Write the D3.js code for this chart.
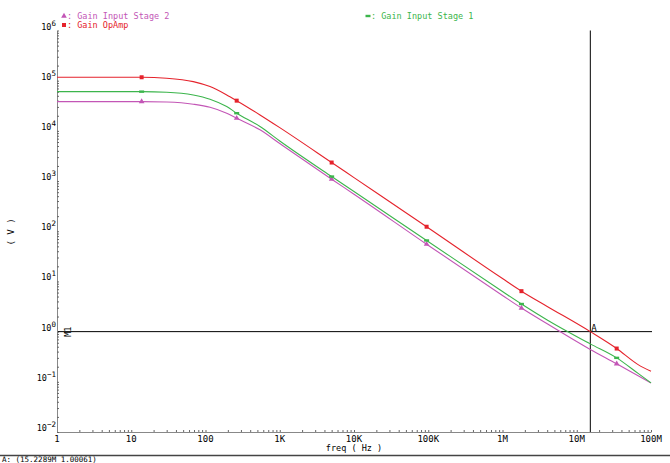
<!DOCTYPE html>
<html>
<head>
<meta charset="utf-8">
<script src="https://cdn.jsdelivr.net/npm/d3@7"></script>
<style>
  body { margin: 0; background: #fff; }
  text { font-family: "DejaVu Sans Mono", monospace; }
</style>
</head>
<body>
<script>
// values (freq in Hz, gain in V/V)
var freqHz = [1, 13.8, 30, 68.5, 115, 193, 263, 542, 1e3, 5e3, 1e4, 9.5e4, 1e6, 1.8e6, 4e6, 1.52e7, 3.45e7, 6.7e7, 1e8];
var gainOpAmp = [1.17e5, 1.17e5, 1.12e5, 9.57e4, 7.62e4, 5.2e4, 4.0e4, 2.08e4, 1.16e4, 2.34e3, 1.17e3, 123, 11.4, 6.4, 3.18, 1.0, 0.46, 0.22, 0.162];
var gainStage1 = [6.05e4, 6.05e4, 5.9e4, 5.2e4, 4.28e4, 3.05e4, 2.25e4, 1.22e4, 6.3e3, 1.23e3, 618, 65.5, 6.3, 3.55, 1.71, 0.57, 0.30, 0.147, 0.095];
var gainStage2 = [3.83e4, 3.83e4, 3.75e4, 3.4e4, 2.96e4, 2.25e4, 1.79e4, 1.05e4, 5.6e3, 1.09e3, 547, 55.2, 5.25, 2.95, 1.43, 0.44, 0.228, 0.132, 0.095];
var markerHz = [13.8, 263, 5e3, 9.5e4, 1.8e6, 3.45e7];

var xTickValues = [1, 10, 100, 1e3, 1e4, 1e5, 1e6, 1e7, 1e8];
var xTickLabels = ["1", "10", "100", "1K", "10K", "100K", "1M", "10M", "100M"];
var yTickExps = [-2, -1, 0, 1, 2, 3, 4, 5, 6];

// cursor A / marker M1
var cursorA = [15.2289e6, 1.00061];
var markerM1 = 1.0;

var series = [
  {name: "Gain Input Stage 2", values: gainStage2, color: "#c356b6", shape: "tri"},
  {name: "Gain OpAmp", values: gainOpAmp, color: "#e5232c", shape: "sq"},
  {name: "Gain Input Stage 1", values: gainStage1, color: "#3cb54c", shape: "bar"}
];

var svg = d3.select("body")
  .append("svg")
    .attr("width", 670)
    .attr("height", 463);

var x = d3.scaleLog()
  .domain([1, 1e8])
  .range([57, 651]);
var y = d3.scaleLog()
  .domain([1e-2, 1e6])
  .range([432, 30.5]);

// axes: tiny inward ticks, no default labels
svg.append("g")
    .attr("transform", "translate(0," + y(1e-2) + ")")
    .call(d3.axisTop(x).tickFormat("").tickSize(2).tickSizeOuter(0))
    .call(function(g) {
      g.select(".domain").attr("stroke", "#888");
      g.selectAll(".tick line").attr("stroke", "#666");
    });

svg.append("g")
    .attr("transform", "translate(" + x(1) + ",0)")
    .call(d3.axisRight(y).tickFormat("").tickSize(2).tickSizeOuter(0))
    .call(function(g) {
      g.select(".domain").attr("stroke", "#888");
      g.selectAll(".tick line").attr("stroke", "#666");
    });

svg.append("g")
  .selectAll("text")
    .data(xTickValues)
  .enter().append("text")
    .attr("x", function(d) { return x(d); })
    .attr("y", 442)
    .attr("text-anchor", "middle")
    .attr("font-size", 9)
    .text(function(d, i) { return xTickLabels[i]; });

var yLab = svg.append("g")
  .selectAll("text")
    .data(yTickExps)
  .enter().append("text")
    .attr("x", 56)
    .attr("y", function(d) { return y(Math.pow(10, d)) - 1; })
    .attr("text-anchor", "end")
    .attr("font-size", 8.5);
yLab.append("tspan").text("10");
yLab.append("tspan")
    .attr("dy", -4)
    .attr("font-size", 7.5)
    .text(function(d) { return d < 0 ? "\u2212" + (-d) : d; });

svg.append("text")
    .attr("x", 354)
    .attr("y", 451)
    .attr("text-anchor", "middle")
    .attr("font-size", 8.5)
    .text("freq ( Hz )");

svg.append("text")
    .attr("transform", "translate(14,232) rotate(-90)")
    .attr("text-anchor", "middle")
    .attr("font-size", 9)
    .text("( V )");

// cursor lines
svg.append("line")
    .attr("x1", x(1) + 1).attr("x2", x(1e8) + 1)
    .attr("y1", y(markerM1)).attr("y2", y(markerM1))
    .attr("stroke", "#000");
svg.append("line")
    .attr("x1", x(cursorA[0])).attr("x2", x(cursorA[0]))
    .attr("y1", y(1e6)).attr("y2", y(1e-2))
    .attr("stroke", "#000");

svg.append("text")
    .attr("transform", "translate(71," + y(markerM1) + ") rotate(-90)")
    .attr("text-anchor", "middle")
    .attr("font-size", 8.5)
    .text("M1");
svg.append("text")
    .attr("x", x(cursorA[0]) + 1)
    .attr("y", y(cursorA[1]) - 1)
    .attr("font-size", 9)
    .text("A");

var line = d3.line()
  .x(function(d) { return x(d[0]); })
  .y(function(d) { return y(d[1]); })
  .curve(d3.curveMonotoneX);

function drawMarker(g, shape, color, cx, cy) {
  if (shape === "sq") {
    g.append("rect").attr("x", cx - 2).attr("y", cy - 2).attr("width", 4).attr("height", 4).attr("fill", color);
  } else if (shape === "bar") {
    g.append("rect").attr("x", cx - 2.5).attr("y", cy - 1.2).attr("width", 5).attr("height", 2.4).attr("fill", color);
  } else {
    g.append("path")
      .attr("transform", "translate(" + cx + "," + cy + ")")
      .attr("d", d3.symbol().type(d3.symbolTriangle).size(14)())
      .attr("fill", color);
  }
}

series.forEach(function(s) {
  var pts = freqHz.map(function(f, i) { return [f, s.values[i]]; });
  var g = svg.append("g");
  g.append("path")
      .attr("d", line(pts))
      .attr("fill", "none")
      .attr("stroke", s.color)
      .attr("stroke-width", 1.1);
  markerHz.forEach(function(f) {
    var i = freqHz.indexOf(f);
    drawMarker(g, s.shape, s.color, x(f), y(s.values[i]));
  });
});

// legend, Cadence style
var legendPos = [[62, 19], [62, 28], [366, 19]];
series.forEach(function(s, i) {
  var p = legendPos[i];
  var g = svg.append("g");
  drawMarker(g, s.shape, s.color, p[0] + 2, p[1] - 3);
  g.append("text")
      .attr("x", p[0] + 5)
      .attr("y", p[1])
      .attr("font-size", 8.5)
      .attr("fill", s.color)
      .text(": " + s.name);
});

// status bar
svg.append("line")
    .attr("x1", 0).attr("x2", 670)
    .attr("y1", 455.5).attr("y2", 455.5)
    .attr("stroke", "#444")
    .attr("stroke-width", 1.5);
svg.append("text")
    .attr("x", 2)
    .attr("y", 462)
    .attr("font-size", 7.5)
    .text("A: (15.2289M 1.00061)");
</script>
</body>
</html>
